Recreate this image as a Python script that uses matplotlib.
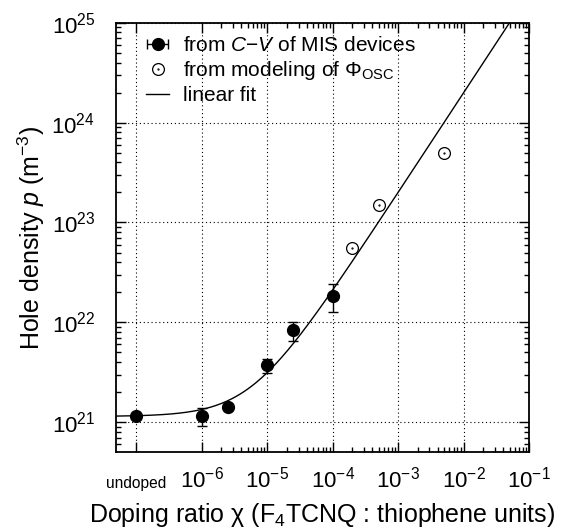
import matplotlib

matplotlib.use("Agg")
import matplotlib.pyplot as plt
import numpy as np
from matplotlib.legend_handler import HandlerTuple
from matplotlib.lines import Line2D
from matplotlib.ticker import FixedLocator, LogLocator, NullFormatter

plt.rcParams["font.family"] = ["Liberation Sans", "DejaVu Sans"]
plt.rcParams["mathtext.fontset"] = "custom"
plt.rcParams["mathtext.rm"] = "Liberation Sans"
plt.rcParams["mathtext.it"] = "Liberation Sans:italic"
plt.rcParams["mathtext.bf"] = "Liberation Sans:bold"

# C-V measurements on MIS devices (undoped plotted at 1e-7)
cv_ratio = [1e-7, 1e-6, 2.5e-6, 1e-5, 2.5e-5, 1e-4]
cv_density = [1.15e21, 1.15e21, 1.41e21, 3.7e21, 8.3e21, 1.82e22]
cv_err_low = [0.0, 0.24e21, 0.0, 0.6e21, 1.8e21, 0.56e22]
cv_err_high = [0.0, 0.23e21, 0.0, 0.6e21, 1.7e21, 0.58e22]

# values from modeling of the OSC work function
osc_ratio = [2e-4, 5e-4, 5e-3]
osc_density = [5.5e22, 1.48e23, 5.0e23]

# linear fit p = p0 + k * chi
FIT_P0 = 1.14e21
FIT_K = 2.0e26

xtick_pos = [1e-7, 1e-6, 1e-5, 1e-4, 1e-3, 1e-2, 1e-1]
xtick_labels = ["undoped", r"$10^{-6}$", r"$10^{-5}$", r"$10^{-4}$",
                r"$10^{-3}$", r"$10^{-2}$", r"$10^{-1}$"]
ytick_pos = [1e21, 1e22, 1e23, 1e24, 1e25]
ytick_labels = [r"$10^{21}$", r"$10^{22}$", r"$10^{23}$", r"$10^{24}$", r"$10^{25}$"]

fig = plt.figure(figsize=(5.63, 5.30), dpi=100, facecolor="white")
ax = fig.add_axes([0.206, 0.147, 0.734, 0.810])
ax.set_xscale("log")
ax.set_yscale("log")
ax.set_xlim(10 ** -7.31, 1e-1)
ax.set_ylim(10 ** 20.7, 1e25)

chi = np.logspace(-7.31, -1, 400)
ax.plot(chi, FIT_P0 + FIT_K * chi, color="black", lw=1.0, zorder=2)

ax.errorbar(cv_ratio, cv_density, yerr=[cv_err_low, cv_err_high], fmt="o",
            color="black", ms=8.5, elinewidth=1.0, capsize=3.5, capthick=1.0, zorder=4)

ax.plot(osc_ratio, osc_density, "o", mfc="white", mec="black", mew=0.9, ms=8.5, zorder=4)
ax.plot(osc_ratio, osc_density, ".", color="black", ms=1.2, zorder=5)

# ticks
ax.xaxis.set_major_locator(FixedLocator(xtick_pos))
ax.set_xticklabels(xtick_labels, fontsize=16)
minor_x = [m * 10.0 ** e for e in range(-6, -1) for m in range(2, 10)]
ax.xaxis.set_minor_locator(FixedLocator(minor_x))
ax.xaxis.set_minor_formatter(NullFormatter())
ax.yaxis.set_major_locator(FixedLocator(ytick_pos))
ax.yaxis.set_minor_locator(LogLocator(base=10, subs=np.arange(2, 10)))
ax.yaxis.set_minor_formatter(NullFormatter())
ax.set_yticklabels(ytick_labels, fontsize=16)
ax.tick_params(which="both", direction="in", top=True, right=True, width=1.0)
ax.tick_params(which="major", length=7)
ax.tick_params(which="minor", length=3.5)
ax.tick_params(axis="x", which="major", pad=25.5)
ax.tick_params(axis="y", which="major", pad=15)
for i, lab in enumerate(ax.get_xticklabels()):
    lab.set_verticalalignment("baseline")
    if i == 0:
        lab.set_fontsize(11.2)
for sp in ax.spines.values():
    sp.set_linewidth(1.3)

ax.grid(True, which="major", linestyle=(0, (1, 2.5)), color="black", lw=0.8)

ax.set_xlabel("Doping ratio χ (F$_4$TCNQ : thiophene units)", fontsize=18, labelpad=6)
ax.set_ylabel(r"Hole density $p$ (m$^{-3}$)", fontsize=18, labelpad=3)

# legend
cv_handle = ax.errorbar([np.nan], [np.nan], xerr=[1.0], fmt="o", color="black", ms=8.5,
                        elinewidth=1.0, capsize=3.5, capthick=1.0)
osc_handle = (Line2D([], [], marker="o", ls="none", mfc="white", mec="black", mew=0.9, ms=8.5),
              Line2D([], [], marker=".", ls="none", color="black", ms=1.2))
fit_handle = Line2D([], [], color="black", lw=1.0)
ax.legend([cv_handle, osc_handle, fit_handle],
          [r"from $C$$-$$V$ of MIS devices", r"from modeling of $\Phi_{\mathrm{OSC}}$", "linear fit"],
          handler_map={tuple: HandlerTuple(ndivide=1)},
          loc="upper left", bbox_to_anchor=(0.073, 0.969), frameon=False, fontsize=15,
          handlelength=1.1, handletextpad=0.65, labelspacing=0.2,
          borderpad=0.0, borderaxespad=0.0)

fig.savefig("out.png", dpi=100, facecolor="white")
